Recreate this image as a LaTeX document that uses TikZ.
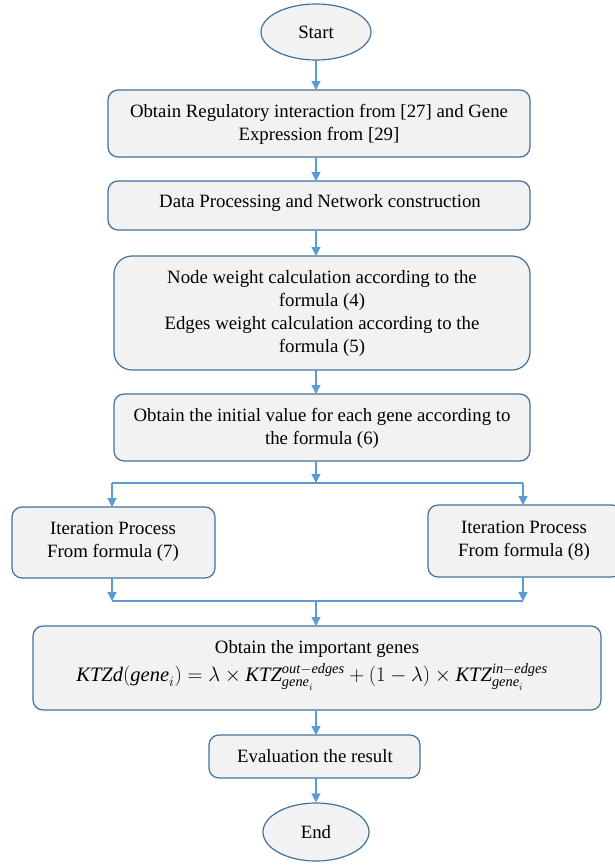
\documentclass[tikz,border=0pt]{standalone}
\usepackage{fontspec}
\setmainfont{Liberation Serif}
\usetikzlibrary{shapes.geometric,arrows.meta}
\definecolor{boxfill}{HTML}{F2F2F2}
\definecolor{boxline}{HTML}{41719C}
\definecolor{arr}{HTML}{5B9BD5}
\begin{document}
\begin{tikzpicture}[x=1pt,y=-1pt,
  font=\fontsize{18.8}{23}\selectfont,
  box/.style={draw=boxline, line width=1.2pt, fill=boxfill, rounded corners=10pt},
  oval/.style={ellipse, draw=boxline, line width=1.2pt, fill=boxfill, inner sep=0pt},
  conn/.style={draw=arr, line width=1.3pt},
  arrow/.style={conn, -{Triangle[width=9pt,length=9pt]}}]
\useasboundingbox (0,0) rectangle (615,867);
% shapes
\node[oval, minimum width=110pt, minimum height=56pt] (start) at (316,32) {Start};
\draw[box] (108,90) rectangle (530,157);
\node[align=center] (b1) at (319,124) {Obtain Regulatory interaction from [27] and Gene\\Expression from [29]};
\coordinate (b1t) at (316,90); \coordinate (b1b) at (316,157);
\draw[box] (108,181) rectangle (530,230);
\node (b2) at (320,203) {Data Processing and Network construction};
\coordinate (b2t) at (316,181); \coordinate (b2b) at (316,230);
\draw[box, rounded corners=18pt] (114,256) rectangle (530,370);
\node[align=center] (b3) at (322,313) {Node weight calculation according to the\\formula (4)\\Edges weight calculation according to the\\formula (5)};
\coordinate (b3t) at (316,256); \coordinate (b3b) at (316,370);
\draw[box] (114,394) rectangle (530,461);
\node[align=center] (b4) at (322,428) {Obtain the initial value for each gene according to\\the formula (6)};
\coordinate (b4t) at (316,394); \coordinate (b4b) at (316,461);
\draw[box] (12,507) rectangle (215,578);
\node[align=center] (b5) at (113,542) {Iteration Process\\From formula (7)};
\coordinate (b5t) at (112,507); \coordinate (b5b) at (112,578);
\draw[box] (428,505) rectangle (622,577);
\node[align=center] (b6) at (524,541) {Iteration Process\\From formula (8)};
\coordinate (b6t) at (523,505); \coordinate (b6b) at (523,577);
\draw[box] (33,626) rectangle (601,710);
\node (b7a) at (317,649) {Obtain the important genes};
\node (b7b) at (312,677) {\fontsize{20.5}{23}\selectfont$\mathit{KTZd}(\mathit{gene}_i)=\lambda\times \mathit{KTZ}_{\mathit{gene}_i}^{\mathit{out-edges}}+(1-\lambda)\times\mathit{KTZ}_{\mathit{gene}_i}^{\mathit{in-edges}}$};
\coordinate (b7t) at (316,626); \coordinate (b7bot) at (316,710);
\draw[box] (209,735) rectangle (420,778);
\node (b8) at (315,756) {Evaluation the result};
\coordinate (b8t) at (316,735); \coordinate (b8b) at (316,778);
\node[oval, minimum width=106pt, minimum height=58pt] (end) at (316,832) {End};
% connectors
\draw[arrow] (start) -- (b1t);
\draw[arrow] (b1b) -- (b2t);
\draw[arrow] (b2b) -- (b3t);
\draw[arrow] (b3b) -- (b4t);
\coordinate (j1) at (316,483);
\coordinate (j1l) at (112,483);
\coordinate (j1r) at (523,483);
\draw[arrow] (b4b) -- (j1);
\draw[conn] (j1l) -- (j1r);
\draw[arrow] (j1l) -- (b5t);
\draw[arrow] (j1r) -- (b6t);
\coordinate (j2l) at (112,601);
\coordinate (j2r) at (523,601);
\coordinate (j2) at (316,601);
\draw[arrow] (b5b) -- (j2l);
\draw[arrow] (b6b) -- (j2r);
\draw[conn] (j2l) -- (j2r);
\draw[arrow] (j2) -- (b7t);
\draw[arrow] (b7bot) -- (b8t);
\draw[arrow] (b8b) -- (end);
\end{tikzpicture}
\end{document}
